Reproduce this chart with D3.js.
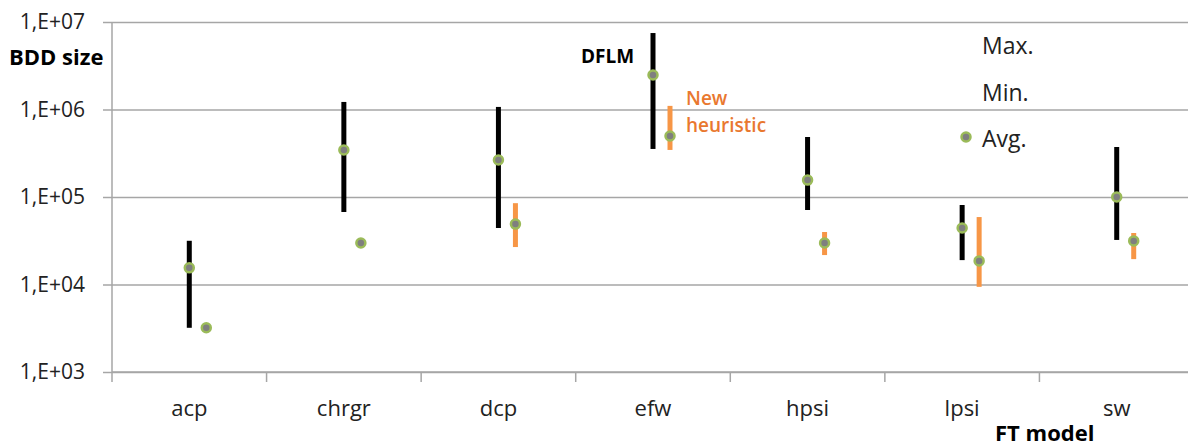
<!DOCTYPE html>
<html>
<head>
<meta charset="utf-8">
<script src="https://cdnjs.cloudflare.com/ajax/libs/d3/7.8.5/d3.min.js"></script>
<style>
  body { margin: 0; background: #fff; }
  text { font-family: "Open Sans", sans-serif; }
</style>
</head>
<body>
<svg id="chart" width="1188" height="448"></svg>
<script>
// FT models on the x axis
const models = ['acp', 'chrgr', 'dcp', 'efw', 'hpsi', 'lpsi', 'sw']

// DFLM series
const dflmMax = [31600, 1220000, 1070000, 7480000, 485000, 81000, 373000]
const dflmMin = [3200, 67400, 44200, 354000, 71000, 19000, 32300]
const dflmAvg = [15500, 344000, 265000, 2480000, 156000, 44200, 100000]

// New heuristic series
const newMax = [3200, 29800, 85000, 1100000, 39800, 59000, 38800]
const newMin = [3200, 29800, 26800, 345000, 21700, 9400, 19500]
const newAvg = [3200, 29800, 49000, 498000, 29800, 18600, 31500]

const yTicks = [1e3, 1e4, 1e5, 1e6, 1e7]
const yTickLabels = ['1,E+03', '1,E+04', '1,E+05', '1,E+06', '1,E+07']

const svg = d3.select('#chart')
const mLeft = 112, mRight = 1194, mTop = 22, mBottom = 372

const x = d3.scaleBand().domain(models).range([mLeft, mRight])
const y = d3.scaleLog().domain([1e3, 1e7]).range([mBottom, mTop])

// gridlines
svg.append('g')
  .attr('transform', `translate(${mLeft},0)`)
  .call(d3.axisLeft(y).tickValues(yTicks).tickSize(-(mRight - mLeft)).tickFormat(''))
  .call(g => g.select('.domain').remove())
  .selectAll('line').attr('stroke', '#a6a6a6').attr('stroke-width', 1.5)

// y axis with little outer ticks
const yAxis = svg.append('g')
  .attr('transform', `translate(${mLeft},0)`)
  .call(d3.axisLeft(y).tickValues(yTicks).tickSize(9).tickPadding(18)
    .tickFormat((d, i) => yTickLabels[i]))
yAxis.select('.domain').attr('stroke', '#a6a6a6').attr('stroke-width', 1.5).attr('d', `M0,${mTop}V${mBottom}`)
yAxis.selectAll('line').attr('stroke', '#a6a6a6').attr('stroke-width', 1.5)
yAxis.selectAll('text').attr('font-size', 21).attr('fill', '#222').attr('font-family', '"Open Sans", sans-serif')

// x axis with ticks between categories
const xAxis = svg.append('g')
  .attr('transform', `translate(0,${mBottom})`)
  .call(d3.axisBottom(x).tickSize(0).tickPadding(28))
xAxis.select('.domain').attr('stroke', '#a6a6a6').attr('stroke-width', 1.5).attr('d', `M${mLeft},0H${mRight}`)
xAxis.selectAll('text').attr('font-size', 22).attr('fill', '#222').attr('font-family', '"Open Sans", sans-serif')
svg.append('g').selectAll('line')
  .data(models)
  .join('line')
  .attr('x1', d => x(d)).attr('x2', d => x(d))
  .attr('y1', mBottom).attr('y2', mBottom + 10)
  .attr('stroke', '#a6a6a6').attr('stroke-width', 1.5)

const offset = 17
const dflm = models.map((m, i) => ({ m, max: dflmMax[i], min: dflmMin[i], avg: dflmAvg[i] }))
const nh = models.map((m, i) => ({ m, max: newMax[i], min: newMin[i], avg: newAvg[i] }))

function drawSeries(data, dx, color) {
  const g = svg.append('g')
  g.selectAll('line')
    .data(data)
    .join('line')
    .attr('x1', d => x(d.m) + x.bandwidth() / 2 + dx)
    .attr('x2', d => x(d.m) + x.bandwidth() / 2 + dx)
    .attr('y1', d => y(d.max))
    .attr('y2', d => y(d.min))
    .attr('stroke', color)
    .attr('stroke-width', 5)
  g.selectAll('circle')
    .data(data)
    .join('circle')
    .attr('cx', d => x(d.m) + x.bandwidth() / 2 + dx)
    .attr('cy', d => y(d.avg))
    .attr('r', 4.5)
    .attr('fill', '#7f7f7f')
    .attr('stroke', '#9bbb59')
    .attr('stroke-width', 2.5)
}
drawSeries(dflm, 0, '#000')
drawSeries(nh, offset, '#f79646')

// labels
svg.append('text').attr('x', 9).attr('y', 65).attr('font-size', 22).attr('font-weight', 'bold').text('BDD size')
svg.append('text').attr('x', 581).attr('y', 63).attr('font-size', 19).attr('font-weight', 'bold').text('DFLM')
svg.append('text').attr('x', 686).attr('y', 105).attr('font-size', 19).attr('font-weight', 600).attr('fill', '#e9782f').text('New')
svg.append('text').attr('x', 686).attr('y', 132).attr('font-size', 19).attr('font-weight', 600).attr('fill', '#e9782f').text('heuristic')
svg.append('text').attr('x', 995).attr('y', 441).attr('font-size', 22).attr('font-weight', 'bold').text('FT model')

// legend
const legendItems = ['Max.', 'Min.', 'Avg.']
svg.append('g').selectAll('text')
  .data(legendItems)
  .join('text')
  .attr('x', 982)
  .attr('y', (d, i) => 54 + i * 46.5)
  .attr('font-size', 23)
  .attr('fill', '#222')
  .text(d => d)
svg.append('circle').attr('cx', 966).attr('cy', 137).attr('r', 4.5)
  .attr('fill', '#7f7f7f').attr('stroke', '#9bbb59').attr('stroke-width', 2.5)
</script>
</body>
</html>
